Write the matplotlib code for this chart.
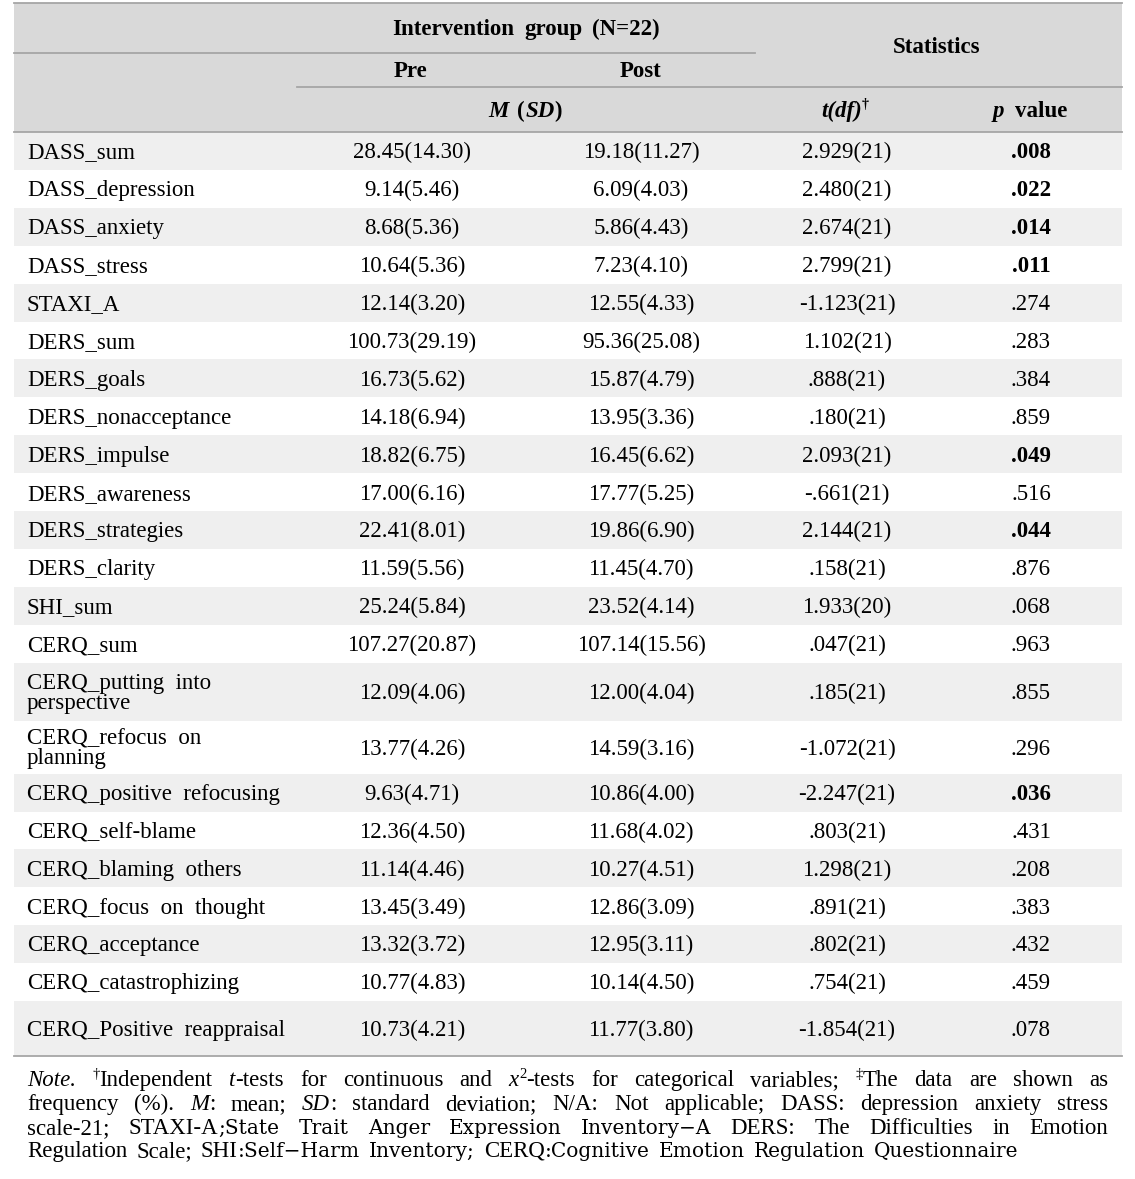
import matplotlib
matplotlib.use("Agg")
import matplotlib.pyplot as plt

# ---- table data ----
labels = ["DASS_sum", "DASS_depression", "DASS_anxiety", "DASS_stress", "STAXI_A",
          "DERS_sum", "DERS_goals", "DERS_nonacceptance", "DERS_impulse", "DERS_awareness",
          "DERS_strategies", "DERS_clarity", "SHI_sum", "CERQ_sum",
          "CERQ_putting  into\nperspective", "CERQ_refocus  on\nplanning",
          "CERQ_positive  refocusing", "CERQ_self-blame", "CERQ_blaming  others",
          "CERQ_focus  on  thought", "CERQ_acceptance", "CERQ_catastrophizing",
          "CERQ_Positive  reappraisal"]
pre_m = [28.45, 9.14, 8.68, 10.64, 12.14, 100.73, 16.73, 14.18, 18.82, 17.00, 22.41, 11.59,
         25.24, 107.27, 12.09, 13.77, 9.63, 12.36, 11.14, 13.45, 13.32, 10.77, 10.73]
pre_sd = [14.30, 5.46, 5.36, 5.36, 3.20, 29.19, 5.62, 6.94, 6.75, 6.16, 8.01, 5.56,
          5.84, 20.87, 4.06, 4.26, 4.71, 4.50, 4.46, 3.49, 3.72, 4.83, 4.21]
post_m = [19.18, 6.09, 5.86, 7.23, 12.55, 95.36, 15.87, 13.95, 16.45, 17.77, 19.86, 11.45,
          23.52, 107.14, 12.00, 14.59, 10.86, 11.68, 10.27, 12.86, 12.95, 10.14, 11.77]
post_sd = [11.27, 4.03, 4.43, 4.10, 4.33, 25.08, 4.79, 3.36, 6.62, 5.25, 6.90, 4.70,
           4.14, 15.56, 4.04, 3.16, 4.00, 4.02, 4.51, 3.09, 3.11, 4.50, 3.80]
t_val = [2.929, 2.480, 2.674, 2.799, -1.123, 1.102, .888, .180, 2.093, -.661, 2.144, .158,
         1.933, .047, .185, -1.072, -2.247, .803, 1.298, .891, .802, .754, -1.854]
df = [21] * 12 + [20] + [21] * 10
p_val = [.008, .022, .014, .011, .274, .283, .384, .859, .049, .516, .044, .876,
         .068, .963, .855, .296, .036, .431, .208, .383, .432, .459, .078]

# layout (pixels)
W, H = 1135, 1179
X0, X1 = 14, 1122
row_h = [37.9] * 14 + [58, 53, 38, 37.8, 37.8, 37.8, 37.8, 37.8, 55]
col_x = [27, 412, 641, 847, 1031]
FS = 16.5
SERIF = "Liberation Serif"
LINE = "#a6a6a6"


def fmt_t(v):
    s = f"{v:.3f}"
    return s.replace("0.", ".", 1) if s.lstrip("-").startswith("0.") else s


def fmt_p(v):
    return f"{v:.3f}".lstrip("0")


fig = plt.figure(figsize=(W / 100, H / 100), dpi=100)
ax = fig.add_axes([0, 0, 1, 1])
ax.set_xlim(0, W)
ax.set_ylim(H, 0)
ax.axis("off")
renderer = fig.canvas.get_renderer()


def place(tokens, x0, y, x1=None, center=None, space=7):
    """tokens: list of words; word = list of (text, kwargs, dy)."""
    objs = []
    widths = []
    for word in tokens:
        wo = []
        ww = []
        for txt, kw, dy in word:
            t = ax.text(0, y + dy, txt, va="baseline", ha="left", **kw)
            wo.append(t)
            ww.append(t.get_window_extent(renderer).width)
        objs.append(wo)
        widths.append(ww)
    total = sum(sum(w) for w in widths)
    n = len(tokens)
    if x1 is not None and n > 1:
        gap = (x1 - x0 - total) / (n - 1)
    else:
        gap = space
    if center is not None:
        x0 = center - (total + gap * (n - 1)) / 2
    x = x0
    for wo, ww in zip(objs, widths):
        for t, w in zip(wo, ww):
            t.set_x(x)
            x += w
        x += gap


# header background and rules
ax.axhspan(3, 132, xmin=X0 / W, xmax=X1 / W, color="#d9d9d9", lw=0)
y = 132
for i, h in enumerate(row_h):
    if i % 2 == 0:
        ax.axhspan(y, y + h, xmin=X0 / W, xmax=X1 / W, color="#efefef", lw=0)
    y += h
y_end = y
ax.plot([X0, X1], [3, 3], color=LINE, lw=1.3)
ax.plot([X0, 755], [53, 53], color=LINE, lw=1.3)
ax.plot([297, X1], [87, 87], color=LINE, lw=1.3)
ax.plot([X0, X1], [132, 132], color=LINE, lw=1.3)
ax.plot([X0, X1], [y_end, y_end], color=LINE, lw=1.3)

B = dict(family=SERIF, fontsize=FS, fontweight="bold")
BI = dict(family=SERIF, fontsize=FS, fontweight="bold", style="italic")
BS = dict(family=SERIF, fontsize=10, fontweight="bold")

place([[("Intervention", B, 0)], [("group", B, 0)], [("(N=22)", B, 0)]], 0, 35, center=526, space=10)
place([[("Statistics", B, 0)]], 0, 53, center=937)
place([[("Pre", B, 0)]], 0, 77, center=411)
place([[("Post", B, 0)]], 0, 77, center=641)
place([[("M", BI, 0)], [("(", B, 0), ("SD", BI, 0), (")", B, 0)]], 0, 117, center=525, space=9)
place([[("t(df)", BI, 0), ("†", BS, -9)]], 0, 117, center=845)
place([[("p", BI, 0)], [("value", B, 0)]], 0, 117, center=1030, space=10)

# body rows
y = 132
for i, h in enumerate(row_h):
    yc = y + h / 2 + 2
    ax.text(col_x[0], yc, labels[i], ha="left", va="center", family=SERIF,
            fontsize=FS, linespacing=0.92)
    ax.text(col_x[1], yc, f"{pre_m[i]:.2f}({pre_sd[i]:.2f})", ha="center", va="center",
            family=SERIF, fontsize=FS)
    ax.text(col_x[2], yc, f"{post_m[i]:.2f}({post_sd[i]:.2f})", ha="center", va="center",
            family=SERIF, fontsize=FS)
    ax.text(col_x[3], yc, f"{fmt_t(t_val[i])}({df[i]})", ha="center", va="center",
            family=SERIF, fontsize=FS)
    ax.text(col_x[4], yc, fmt_p(p_val[i]), ha="center", va="center", family=SERIF,
            fontsize=FS, fontweight="bold" if p_val[i] < .05 else "normal")
    y += h

# footnote
FN = 16.5
R = dict(family=SERIF, fontsize=FN)
I = dict(family=SERIF, fontsize=FN, style="italic")
S = dict(family=SERIF, fontsize=10.5)
K = dict(family="DejaVu Serif", fontsize=14.5)


def words(s, kw=R):
    return [[(w, kw, 0)] for w in s.split()]


line1 = ([[("Note.", I, 0)], [("†", S, -8), ("Independent", R, 0)], [("t", I, 0), ("-tests", R, 0)]]
         + words("for continuous and")
         + [[("x", I, 0), ("2", S, -8), ("-tests", R, 0)]]
         + words("for categorical variables;")
         + [[("‡", S, -8), ("The", R, 0)]] + words("data are shown as"))
line2 = (words("frequency (%).") + [[("M", I, 0), (":", R, 0)]] + words("mean;")
         + [[("SD", I, 0), (":", R, 0)]]
         + words("standard deviation; N/A: Not applicable; DASS: depression anxiety stress"))
line3 = (words("scale-21;") + [[("STAXI-A", R, 0), (";State", K, 0)]]
         + words("Trait Anger Expression", K) + [[("Inventory−A", K, 0)]]
         + words("DERS: The Difficulties in Emotion"))
line4 = (words("Regulation Scale;") + [[("SHI", R, 0), (":Self−Harm", K, 0)]]
         + [[("Inventory;", K, 0)]] + [[("CERQ", R, 0), (":Cognitive", K, 0)]]
         + words("Emotion Regulation Questionnaire", K))

place(line1, 27, 1086, x1=1108)
place(line2, 27, 1110, x1=1108)
place(line3, 27, 1134, x1=1108)
place(line4, 27, 1157, space=9)

fig.savefig("out.png", dpi=100)
